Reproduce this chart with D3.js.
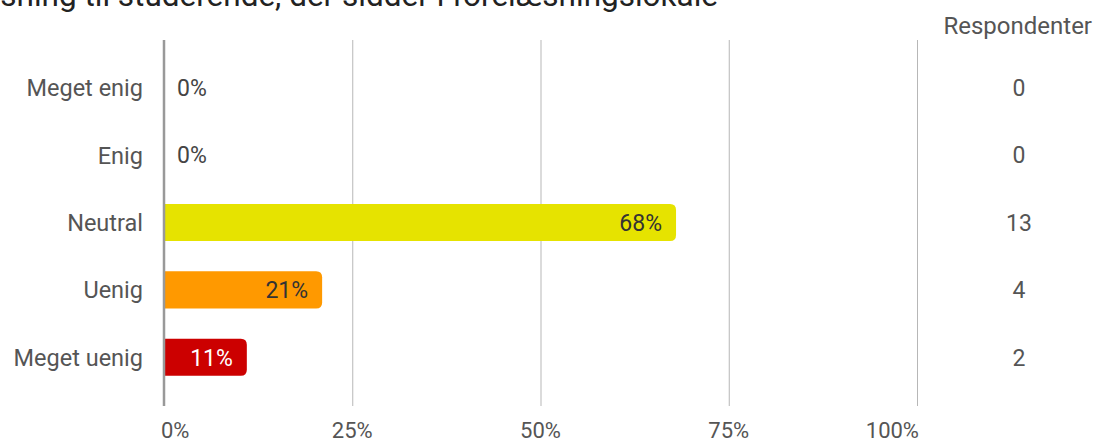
<!DOCTYPE html>
<html><head><meta charset="utf-8">
<script src="https://cdn.jsdelivr.net/npm/d3@7"></script>
<style>body{margin:0;background:#fff}svg{display:block;font-family:Roboto,"Noto Sans",sans-serif}</style>
</head><body><svg id="c" width="1096" height="442"></svg>
<script>
const titleText = "sning til studerende, der sidder i forelæsningslokale";
const categories = ["Meget enig","Enig","Neutral","Uenig","Meget uenig"];
const percents = [0,0,68,21,11];
const counts = [0,0,13,4,2];
const colors = ["#7ab317","#b5cc18","#e6e300","#ff9900","#cc0000"];
const labelColors = ["#333","#333","#333","#333","#fff"];
const tickValues = [0,25,50,75,100];
const countHeader = "Respondenter";

const svg = d3.select("#c");
const x = d3.scaleLinear().domain([0,100]).range([164,917]);
const y = d3.scaleBand().domain(categories).range([54,391]).paddingInner(0.45).paddingOuter(0.225);

// title (cut off at top in the reference)
const title = svg.append("text").attr("x",718).attr("y",6).attr("text-anchor","end")
  .attr("font-size",25).attr("fill","#222").attr("font-family","Roboto, sans-serif").text(titleText);
const tl = title.node().getComputedTextLength();
title.attr("font-size", 25*718/tl);

// grid
svg.append("g").selectAll("line").data(tickValues.slice(1)).join("line")
  .attr("x1",d=>x(d)+0.5).attr("x2",d=>x(d)+0.5).attr("y1",40).attr("y2",406)
  .attr("stroke","#b7b7b7").attr("stroke-width",1);

// bars with right rounded corners
const r = 6;
function barPath(x0,x1,y0,h){
  const w = x1-x0; const rr = Math.min(r,w/2,h/2);
  if (w<=0) return "";
  return `M${x0},${y0}H${x1-rr}Q${x1},${y0} ${x1},${y0+rr}V${y0+h-rr}Q${x1},${y0+h} ${x1-rr},${y0+h}H${x0}Z`;
}
const data = categories.map((c,i)=>({c,p:percents[i],n:counts[i],col:colors[i],lc:labelColors[i]}));
svg.append("g").selectAll("path").data(data).join("path")
  .attr("d",d=>barPath(x(0),x(d.p),y(d.c),y.bandwidth())).attr("fill",d=>d.col);

// axis line
svg.append("line").attr("x1",x(0)).attr("x2",x(0)).attr("y1",40).attr("y2",406)
  .attr("stroke","#999").attr("stroke-width",2.5);

// value labels
svg.append("g").selectAll("text").data(data).join("text")
  .attr("x",d=>d.p>5?x(d.p)-14:x(0)+13)
  .attr("y",d=>y(d.c)+y.bandwidth()/2)
  .attr("dy","0.36em").attr("text-anchor",d=>d.p>5?"end":"start")
  .attr("font-size",23).attr("fill",d=>d.p>5?d.lc:"#444").text(d=>d.p+"%");

// category labels
svg.append("g").selectAll("text").data(data).join("text")
  .attr("x",143).attr("y",d=>y(d.c)+y.bandwidth()/2).attr("dy","0.36em")
  .attr("text-anchor","end").attr("font-size",23.5).attr("fill","#555").text(d=>d.c);

// counts
svg.append("text").attr("x",1092).attr("y",34).attr("text-anchor","end")
  .attr("font-size",24).attr("fill","#555").text(countHeader);
svg.append("g").selectAll("text").data(data).join("text")
  .attr("x",1019).attr("y",d=>y(d.c)+y.bandwidth()/2).attr("dy","0.36em")
  .attr("text-anchor","middle").attr("font-size",23).attr("fill","#555").text(d=>d.n);

// x tick labels
svg.append("g").selectAll("text").data(tickValues).join("text")
  .attr("x",(d,i)=> i===0? x(d)-3 : i===tickValues.length-1 ? x(d)+2 : x(d))
  .attr("y",438)
  .attr("text-anchor",(d,i)=> i===0?"start": i===tickValues.length-1?"end":"middle")
  .attr("font-size",22).attr("fill","#555").text(d=>d+"%");
</script></body></html>
